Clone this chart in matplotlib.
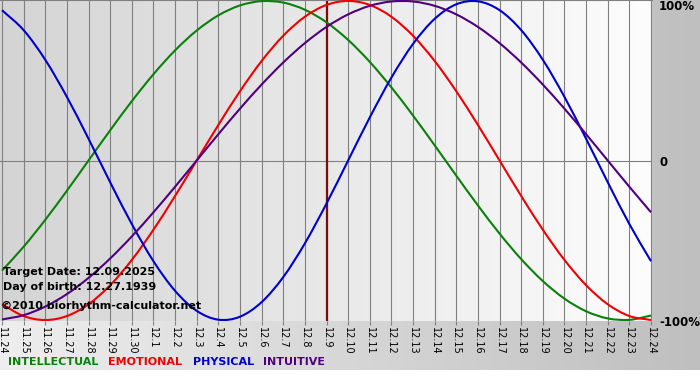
import matplotlib
matplotlib.use('Agg')
import matplotlib.pyplot as plt
from matplotlib.colors import LinearSegmentedColormap
from matplotlib.path import Path
from matplotlib.patches import PathPatch
import numpy as np

#------------------------------------- DATOS ------------------------------------

fechas = ['11.24', '11.25', '11.26', '11.27', '11.28', '11.29', '11.30',
          '12.1', '12.2', '12.3', '12.4', '12.5', '12.6', '12.7', '12.8', '12.9',
          '12.10', '12.11', '12.12', '12.13', '12.14', '12.15', '12.16', '12.17',
          '12.18', '12.19', '12.20', '12.21', '12.22', '12.23', '12.24']

intelectual = [-0.6901, -0.5406, -0.3717, -0.1893, 0.0, 0.1893, 0.3717, 0.5406,
               0.6901, 0.8146, 0.9096, 0.9718, 0.9989, 0.9898, 0.9450, 0.8660,
               0.7557, 0.6182, 0.4582, 0.2817, 0.0951, -0.0951, -0.2817, -0.4582,
               -0.6182, -0.7557, -0.8660, -0.9450, -0.9898, -0.9989, -0.9718]

emocional = [-0.9010, -0.9749, -1.0, -0.9749, -0.9010, -0.7818, -0.6235, -0.4339,
             -0.2225, 0.0, 0.2225, 0.4339, 0.6235, 0.7818, 0.9010, 0.9749,
             1.0, 0.9749, 0.9010, 0.7818, 0.6235, 0.4339, 0.2225, 0.0,
             -0.2225, -0.4339, -0.6235, -0.7818, -0.9010, -0.9749, -1.0]

fisico = [0.9423, 0.8170, 0.6311, 0.3984, 0.1362, -0.1362, -0.3984, -0.6311,
          -0.8170, -0.9423, -0.9977, -0.9791, -0.8879, -0.7308, -0.5196, -0.2698,
          0.0, 0.2698, 0.5196, 0.7308, 0.8879, 0.9791, 0.9977, 0.9423,
          0.8170, 0.6311, 0.3984, 0.1362, -0.1362, -0.3984, -0.6311]

intuitivo = [-0.9966, -0.9694, -0.9158, -0.8372, -0.7357, -0.6142, -0.4759, -0.3247,
             -0.1646, 0.0, 0.1646, 0.3247, 0.4759, 0.6142, 0.7357, 0.8372,
             0.9158, 0.9694, 0.9966, 0.9966, 0.9694, 0.9158, 0.8372, 0.7357,
             0.6142, 0.4759, 0.3247, 0.1646, 0.0, -0.1646, -0.3247]

dia_objetivo = '12.9'

series = [('INTELLECTUAL', intelectual, '#0a800a'),
          ('EMOTIONAL', emocional, '#f00000'),
          ('PHYSICAL', fisico, '#0000cc'),
          ('INTUITIVE', intuitivo, '#50007f')]

#------------------------------------- FUNCIONES ------------------------------------

def curva_suave(xs, ys):
    # Path de Bezier (Catmull-Rom) que pasa por los puntos diarios
    p = np.column_stack([xs, ys]).astype(float)
    p_ext = np.vstack([2*p[0] - p[1], p, 2*p[-1] - p[-2]])
    verts = [p[0]]
    codes = [Path.MOVETO]
    for i in range(1, len(p_ext) - 2):
        c1 = p_ext[i] + (p_ext[i+1] - p_ext[i-1]) / 6
        c2 = p_ext[i+1] - (p_ext[i+2] - p_ext[i]) / 6
        verts += [c1, c2, p_ext[i+1]]
        codes += [Path.CURVE4]*3
    return Path(verts, codes)

#------------------------------------- FIGURA ------------------------------------

W, H = 700, 380
fig = plt.figure(figsize=(W/100, H/100), dpi=100)
fig.patch.set_facecolor('white')

# Fondo gris degradado (hasta y=370 px)
bg = fig.add_axes([0, 10/H, 1, 370/H])
bg.imshow(np.linspace(0, 1, 256).reshape(1, -1), aspect='auto', extent=[0, 1, 0, 1],
          cmap=LinearSegmentedColormap.from_list('bg', ['#eeeeee', '#bfbfbf']))
bg.axis('off')

# Área del gráfico
px_dia = 649/30
ax = fig.add_axes([0, (H-321)/H, 652/W, 321/H])
x0, x1 = -2/px_dia, 30 + 1/px_dia
y0, y1 = -1.006, 1.006
ax.imshow(np.linspace(0, 1, 256).reshape(1, -1), aspect='auto', extent=[x0, x1, y0, y1],
          cmap=LinearSegmentedColormap.from_list('fg', ['#d4d4d4', '#fdfdfd']), zorder=0)
ax.set_xlim(x0, x1)
ax.set_ylim(y0, y1)

x = np.arange(len(fechas))
for xi in x:
    ax.axvline(xi, color='#808080', lw=0.8, zorder=1)
ax.axhline(0, color='#808080', lw=0.8, zorder=1)
ax.axvline(fechas.index(dia_objetivo), color='#7a0c0c', lw=1.6, zorder=2)

for nombre, valores, color in series:
    ax.add_patch(PathPatch(curva_suave(x, valores), facecolor='none', edgecolor=color,
                           lw=1.5, zorder=3))

for s in ['left', 'right', 'bottom']:
    ax.spines[s].set_visible(False)
ax.spines['top'].set_color('#808080')
ax.spines['top'].set_linewidth(0.8)

ax.set_yticks([])
ax.set_xticks(x)
ax.set_xticklabels(fechas, rotation=270, fontsize=7, va='top', ha='center')
ax.tick_params(axis='x', length=3, width=0.8, color='#808080', pad=1)

# Textos dentro del gráfico
ax.text(3/652, 1-272/321, 'Target Date: 12.09.2025', transform=ax.transAxes,
        fontsize=8, fontweight='bold', va='center', ha='left', zorder=4)
ax.text(3/652, 1-287/321, 'Day of birth: 12.27.1939', transform=ax.transAxes,
        fontsize=8, fontweight='bold', va='center', ha='left', zorder=4)
ax.text(1/652, 1-306/321, '\u00a92010 biorhythm-calculator.net', transform=ax.transAxes,
        fontsize=8, fontweight='bold', va='center', ha='left', zorder=4)

# Etiquetas de la derecha
for txt, yp in [('100%', 7), ('0', 162), ('-100%', 322)]:
    fig.text(659/W, 1-yp/H, txt, fontsize=8.5, fontweight='bold', va='center', ha='left')

# Leyenda
for (nombre, valores, color), xp in zip(series, [8, 108, 193, 263]):
    fig.text(xp/W, 1-362/H, nombre, color=color, fontsize=8, fontweight='bold',
             va='center', ha='left')

fig.savefig('out.png', dpi=100)
